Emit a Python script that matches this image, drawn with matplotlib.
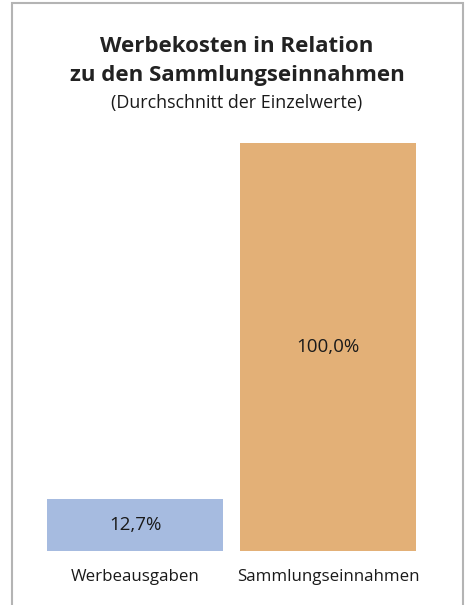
import matplotlib.pyplot as plt
from matplotlib.patches import Rectangle

# Daten
kategorien = ['Werbeausgaben', 'Sammlungseinnahmen']
werte = [12.7, 100.0]
beschriftungen = ['12,7%', '100,0%']
farben = ['#a6bbe0', '#e3b077']

plt.rcParams['font.family'] = ['Open Sans', 'DejaVu Sans']

W, H = 467, 605
fig = plt.figure(figsize=(W / 100, H / 100), dpi=100)

# Rahmen (unten offen)
fig.patches.append(Rectangle((12 / W, -0.05), (463 - 12) / W, 1.05 - 3 / H,
                             transform=fig.transFigure, fill=False,
                             edgecolor='#b4b4b4', linewidth=1.5))

# Achse: Balken von x=47 bis x=416, y=551 (0) bis y=143 (100)
ax = fig.add_axes([47 / W, (H - 551) / H, (416 - 47) / W, (551 - 143) / H])
breite = 0.912
pos = range(len(kategorien))
ax.bar(pos, werte, width=breite, color=farben)
ax.set_xlim(-breite / 2, 1 + breite / 2)
ax.set_ylim(0, 100)
ax.axis('off')

for x, w, t in zip(pos, werte, beschriftungen):
    ax.text(x, w / 2, t, ha='center', va='center', fontsize=13.5, color='#1a1a1a')
    ax.text(x, -6.3, kategorien[x], ha='center', va='center', fontsize=12.2, color='#1a1a1a')

# Titel
fig.text(237 / W, 1 - 47 / H, 'Werbekosten in Relation', ha='center', va='center',
         fontsize=16, fontweight='bold', color='#222222')
fig.text(237 / W, 1 - 75 / H, 'zu den Sammlungseinnahmen', ha='center', va='center',
         fontsize=16, fontweight='bold', color='#222222')
fig.text(237 / W, 1 - 103 / H, '(Durchschnitt der Einzelwerte)', ha='center', va='center',
         fontsize=12.9, color='#1a1a1a')

fig.savefig('out.png', dpi=100)
